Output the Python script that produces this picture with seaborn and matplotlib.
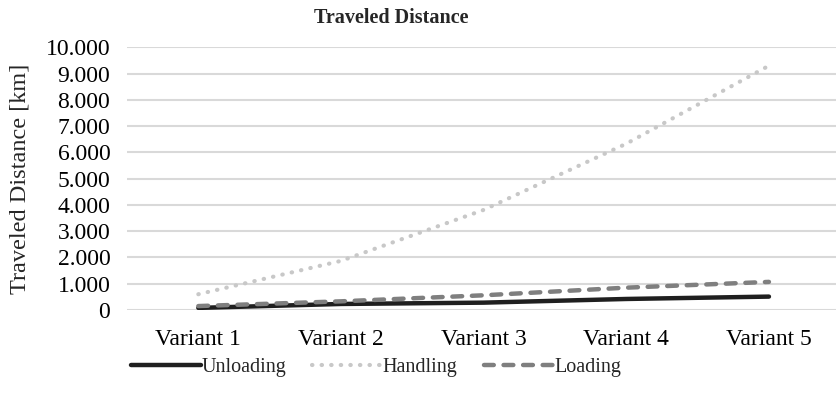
import matplotlib
matplotlib.use("Agg")
import matplotlib.pyplot as plt
import matplotlib.ticker as mticker
import seaborn as sns
import pandas as pd

categories = ["Variant 1", "Variant 2", "Variant 3", "Variant 4", "Variant 5"]
unloading = [80, 230, 280, 420, 510]
handling = [600, 1870, 3810, 6330, 9300]
loading = [150, 330, 560, 850, 1070]
y_ticks = list(range(0, 10001, 1000))

sns.set_theme(style="white")
plt.rcParams["font.family"] = ["Liberation Serif", "DejaVu Serif"]

fig = plt.figure(figsize=(8.36, 3.94), dpi=100)
ax = fig.add_axes([127 / 836, 84 / 394, (836 - 127) / 836, (310 - 47.3) / 394])

series = [
    ("Unloading", unloading, dict(color="#1f1f1f", linewidth=3.2, linestyle="-", solid_capstyle="round")),
    ("Handling", handling, dict(color="#c8c8c8", linewidth=3.0, linestyle=(0, (0.1, 2.2)), dash_capstyle="round")),
    ("Loading", loading, dict(color="#7f7f7f", linewidth=3.2, linestyle=(0, (2.2, 2.2)), dash_capstyle="round")),
]
for name, vals, kw in series:
    df = pd.DataFrame({"Variant": categories, "Distance": vals})
    sns.lineplot(data=df, x="Variant", y="Distance", ax=ax, label=name, sort=False, **kw)

ax.set_ylim(0, 10000)
ax.set_xlim(-0.5, 4.47)
ax.set_yticks(y_ticks)
ax.yaxis.set_major_formatter(mticker.FuncFormatter(lambda v, p: f"{int(round(v)):,}".replace(",", ".")))
ax.grid(axis="y", color="#d9d9d9", linewidth=1.5)
ax.grid(axis="x", visible=False)
for s in ax.spines.values():
    s.set_visible(False)
ax.tick_params(axis="both", length=0, labelsize=17, colors="#000000")
ax.tick_params(axis="y", pad=12)
ax.tick_params(axis="x", pad=14)
ax.set_xlabel("")
ax.set_ylabel("Traveled Distance [km]", fontsize=17.5, labelpad=11)
fig.text(391 / 836, 1 - 18 / 394, "Traveled Distance", fontsize=14.5, fontweight="bold",
         ha="center", va="center")

leg = ax.legend(loc="center", bbox_to_anchor=((376 - 127) / (836 - 127), -(367 - 310) / (310 - 47.3)),
                ncol=3, frameon=False, fontsize=14.5, handlelength=3.5, handletextpad=0.0,
                columnspacing=1.3)

fig.savefig("out.png", dpi=100)
